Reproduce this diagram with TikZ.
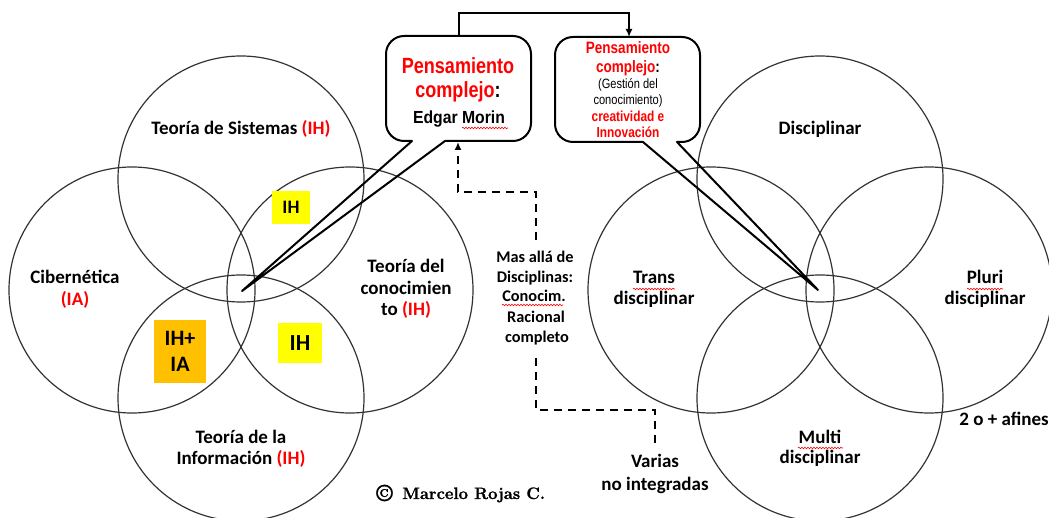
\documentclass[tikz,border=0pt]{standalone}
\usepackage{fontspec}
\usetikzlibrary{arrows.meta,decorations.pathmorphing}
\newfontfamily\labf{Carlito}
\newfontfamily\narf[FakeStretch=0.82]{Liberation Sans}
\newfontfamily\arf[FakeStretch=0.9]{Liberation Sans}
\newfontfamily\cpf[FakeBold=1.2]{Latin Modern Roman}
\definecolor{myred}{HTML}{FF0000}
\definecolor{myyel}{HTML}{FFFF00}
\definecolor{myora}{HTML}{FFC000}
\tikzset{
 circ/.style={draw=black!80, line width=1.2pt},
 lab/.style={font=\labf\bfseries\fontsize{19pt}{23pt}\selectfont, anchor=base, inner sep=0pt},
 maslab/.style={font=\labf\bfseries\fontsize{16.3pt}{20pt}\selectfont, anchor=base, inner sep=0pt},
 callout/.style={draw=black, line width=2pt, line join=round},
 bigred/.style={font=\narf\bfseries\fontsize{22pt}{26pt}\selectfont, text=myred, anchor=base, inner sep=0pt},
 midred/.style={font=\narf\bfseries\fontsize{16.5pt}{20pt}\selectfont, text=myred, anchor=base, inner sep=0pt},
 smallred/.style={font=\narf\bfseries\fontsize{14.5pt}{17pt}\selectfont, text=myred, anchor=base, inner sep=0pt},
 smallblk/.style={font=\narf\fontsize{13.5pt}{16pt}\selectfont, anchor=base, inner sep=0pt},
 morin/.style={font=\arf\bfseries\fontsize{17.5pt}{20pt}\selectfont, anchor=base, inner sep=0pt},
 hl/.style={inner sep=0pt, font=\labf\bfseries, align=center},
 dashline/.style={line width=2pt, dash pattern=on 8pt off 6pt},
 conn/.style={line width=2pt},
 squig/.style={draw=myred, line width=0.6pt, decorate, decoration={snake, amplitude=0.8pt, segment length=3pt}},
 tip/.style={-{Latex[length=8pt,width=7pt]}}
}
\begin{document}
\begin{tikzpicture}[x=1pt,y=-1pt]
\useasboundingbox (0,0) rectangle (1049,518);
% ---------- left group circles
\draw[circ] (241,179) circle[radius=123pt];
\draw[circ] (132,290) circle[radius=123pt];
\draw[circ] (350,290) circle[radius=123pt];
\draw[circ] (241,398) circle[radius=123pt];
% ---------- right group circles
\draw[circ] (820,179) circle[radius=123pt];
\draw[circ] (711,290) circle[radius=123pt];
\draw[circ] (929,290) circle[radius=123pt];
\draw[circ] (820,398) circle[radius=123pt];

% ---------- highlight boxes
\node[hl, fill=myyel, minimum width=38pt, minimum height=33pt, font=\labf\bfseries\fontsize{19pt}{23pt}\selectfont] (ih1) at (291,207.5) {IH};
\node[hl, fill=myyel, minimum width=44pt, minimum height=40pt, font=\labf\bfseries\fontsize{23pt}{27pt}\selectfont] (ih2) at (300,343) {IH};
\node[hl, fill=myora, minimum width=52pt, minimum height=63pt, font=\labf\bfseries\fontsize{22pt}{26pt}\selectfont] (ihia) at (180,351.5) {IH+\\IA};

% ---------- callout tips and connector ends
\coordinate (tipA) at (242,291);
\coordinate (tipB) at (818,290);
\coordinate (t1) at (459,36);
\coordinate (tk) at (544,13);
\coordinate (t2) at (629,37);
\coordinate (dA) at (536,240);
\coordinate (dAk) at (497,192);
\coordinate (a1) at (458,142);
\coordinate (dB) at (536,358);
\coordinate (dBk) at (595,410);
\coordinate (dBe) at (655,445);

% ---------- callout 1 (corner radius 18)
\draw[callout] (412,141) -- (tipA) -- (445,141) -- (513,141)
  .. controls (522.9,141) and (531,132.9) .. (531,123)
  -- (531,54) .. controls (531,44.1) and (522.9,36) .. (513,36)
  -- (404,36) .. controls (394.1,36) and (386,44.1) .. (386,54)
  -- (386,123) .. controls (386,132.9) and (394.1,141) .. (404,141) -- cycle;
% ---------- callout 2
\draw[callout] (643,142) -- (tipB) -- (677,142) -- (682,142)
  .. controls (691.9,142) and (700,133.9) .. (700,124)
  -- (700,55) .. controls (700,45.1) and (691.9,37) .. (682,37)
  -- (573,37) .. controls (563.1,37) and (555,45.1) .. (555,55)
  -- (555,124) .. controls (555,133.9) and (563.1,142) .. (573,142) -- cycle;

% ---------- connectors
\draw[conn, tip] (t1) |- (tk) -| (t2);
\draw[dashline, tip] (dA) |- (dAk) -| (a1);
\draw[dashline] (dB) |- (dBk) -| (dBe);

% ---------- callout texts
\node[bigred] (p1a) at (458,74) {Pensamiento};
\node[bigred] (p1b) at (458,98) {complejo\textcolor{black}{:}};
\node[morin] (p1c) at (459,124) {Edgar Morin};

\node[midred] (p2a) at (628,54) {Pensamiento};
\node[midred] (p2b) at (628,73) {complejo\textcolor{black}{:}};
\node[smallblk] (p2c) at (628,89) {(Gestión del};
\node[smallblk] (p2d) at (628,105) {conocimiento)};
\node[smallred] (p2e) at (628,122) {creatividad e};
\node[smallred] (p2f) at (628,138) {Innovación};

% ---------- left labels
\node[lab] (ts) at (241,135) {Teoría de Sistemas \textcolor{myred}{(IH)}};
\node[lab] (cib1) at (75,284) {Cibernética};
\node[lab, text=myred] (cib2) at (75,306) {(IA)};
\node[lab] (tc1) at (406,273) {Teoría del};
\node[lab] (tc2) at (406,295) {conocimien};
\node[lab] (tc3) at (406,316) {to \textcolor{myred}{(IH)}};
\node[lab] (ti1) at (241,443) {Teoría de la};
\node[lab] (ti2) at (241,464) {Información \textcolor{myred}{(IH)}};

% ---------- right labels
\node[lab] (dis) at (820,135) {Disciplinar};
\node[lab] (tr1) at (654,284) {Trans};
\node[lab] (tr2) at (654,305) {disciplinar};
\node[lab] (pl1) at (985,284) {Pluri};
\node[lab] (pl2) at (985,305) {disciplinar};
\node[lab] (mu1) at (820,443) {Multi};
\node[lab] (mu2) at (820,463) {disciplinar};
\node[lab] (af) at (1004,425) {2 o + afines};
\node[lab] (var1) at (655,467) {Varias};
\node[lab] (var2) at (655,490) {no integradas};

% ---------- middle text
\node[maslab] (m1) at (535,263) {Mas allá de};
\node[maslab] (m2) at (535,283) {Disciplinas:};
\node[maslab] (m3) at (534,302) {Conocim.};
\node[maslab] (m4) at (536,323) {Racional};
\node[maslab] (m5) at (537,342) {completo};

% ---------- spell-check squiggles
\draw[squig] (462,128) -- (508,128);
\draw[squig] (633,289) -- (675,289);
\draw[squig] (967,289) -- (1003,289);
\draw[squig] (798,448) -- (843,448);
\draw[squig] (502,305) -- (563,305);

% ---------- copyright
\node[inner sep=0pt, font=\cpf\bfseries\fontsize{24pt}{28pt}\selectfont] (copy) at (384.5,493) {\textcopyright};
\node[anchor=base west, inner sep=0pt, font=\cpf\bfseries\fontsize{16.6pt}{19pt}\selectfont] (author) at (402,499) {Marcelo Rojas C.};
\end{tikzpicture}
\end{document}
